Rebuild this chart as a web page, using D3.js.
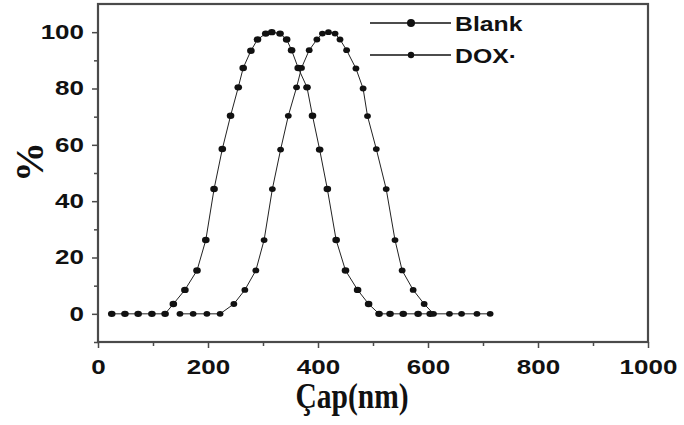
<!DOCTYPE html>
<html lang="en">
<head>
  <meta charset="UTF-8">
  <title>Blank vs DOX size distribution</title>
  <script src="https://d3js.org/d3.v7.min.js"></script>
  <style>
    body { margin: 0; background: #fff; }
    svg { display: block; }
  </style>
</head>
<body>
  <div id="chart"></div>

  <script>
    // Data (size in nm, percent)
    const blankSize = [25, 49, 73, 98, 122, 137, 158, 180, 196, 211, 226, 241, 255, 264, 278, 290, 305, 316, 331, 343, 352, 364, 380, 390, 403, 417, 433, 450, 472, 492, 511, 531, 555, 582, 604];
    const blankPct = [0, 0, 0, 0, 0, 3.5, 8.5, 15.4, 26.2, 44.3, 58.5, 70.3, 80.4, 87.3, 93.4, 97.4, 99.5, 100, 99.5, 97.4, 93.6, 87.3, 80.4, 70.3, 58.3, 44.3, 26.2, 15.4, 8.5, 3.5, 0, 0, 0, 0, 0];

    const doxSize = [149, 173, 198, 222, 247, 267, 287, 302, 317, 332, 346, 361, 370, 384, 398, 408, 419, 431, 440, 452, 469, 482, 490, 506, 524, 540, 553, 573, 593, 610, 639, 661, 689, 713];
    const doxPct = [0, 0, 0, 0, 3.5, 8.5, 15.4, 26.2, 44.3, 58.3, 70.3, 80.4, 87.3, 93.6, 97.4, 99.5, 100, 99.5, 97.4, 93.6, 87.1, 80, 70.2, 58.5, 44.3, 26.2, 15.4, 8.5, 3.5, 0, 0, 0, 0, 0];

    const seriesNames = ["Blank", "DOX·"];
    const xTicks = [0, 200, 400, 600, 800, 1000];
    const xMinor = [100, 300, 500, 700, 900];
    const yTicks = [0, 20, 40, 60, 80, 100];
    const yMinor = [-10, 10, 30, 50, 70, 90];

    // Chart size
    const W = 684, H = 425;
    const margin = { top: 4, right: 36, bottom: 83, left: 98 };
    const width = W - margin.left - margin.right;
    const height = H - margin.top - margin.bottom;

    const svg = d3.select("#chart").append("svg")
      .attr("width", W)
      .attr("height", H);

    const g = svg.append("g")
      .attr("transform", `translate(${margin.left},${margin.top})`);

    // Scales
    const x = d3.scaleLinear().domain([0, 1000]).range([0, width]);
    const y = d3.scaleLinear().domain([-10, 110]).range([height, 0]);

    const ink = "#111";
    const frame = "#4a4a4a";
    const tickFont = "'Liberation Sans', Arial, sans-serif";
    const stretchX = 1.3;

    // Minor ticks first
    g.append("g")
      .attr("transform", `translate(0,${height})`)
      .call(d3.axisBottom(x).tickValues(xMinor).tickSize(4).tickFormat(""))
      .call(a => a.select(".domain").remove())
      .selectAll("line").attr("stroke", frame).attr("stroke-width", 1.5);

    g.append("g")
      .call(d3.axisLeft(y).tickValues(yMinor).tickSize(4).tickFormat(""))
      .call(a => a.select(".domain").remove())
      .selectAll("line").attr("stroke", frame).attr("stroke-width", 1.5);

    // Major x axis
    const xAxis = g.append("g")
      .attr("transform", `translate(0,${height})`)
      .call(d3.axisBottom(x).tickValues(xTicks).tickFormat(d3.format("d")).tickSize(6).tickPadding(12));
    xAxis.select(".domain").remove();
    xAxis.selectAll("line").attr("stroke", frame).attr("stroke-width", 1.5);
    xAxis.selectAll("text")
      .attr("fill", ink)
      .style("font-family", tickFont)
      .style("font-weight", "bold")
      .style("font-size", "20px")
      .attr("transform", `scale(${stretchX},1)`);

    // Major y axis
    const yAxis = g.append("g")
      .call(d3.axisLeft(y).tickValues(yTicks).tickFormat(d3.format("d")).tickSize(6).tickPadding(8));
    yAxis.select(".domain").remove();
    yAxis.selectAll("line").attr("stroke", frame).attr("stroke-width", 1.5);
    yAxis.selectAll("text")
      .attr("fill", ink)
      .attr("x", -14 / stretchX)
      .style("font-family", tickFont)
      .style("font-weight", "bold")
      .style("font-size", "20px")
      .attr("transform", `scale(${stretchX},1)`);

    // Frame box
    g.append("rect")
      .attr("x", 0).attr("y", 0)
      .attr("width", width).attr("height", height)
      .attr("fill", "none")
      .attr("stroke", frame)
      .attr("stroke-width", 2.2);

    // Lines and markers
    const line = d3.line()
      .x(d => x(d[0]))
      .y(d => y(d[1]));

    const series = [
      { name: seriesNames[0], pts: d3.zip(blankSize, blankPct), rx: 3.8, ry: 3.2 },
      { name: seriesNames[1], pts: d3.zip(doxSize, doxPct), rx: 3.4, ry: 2.9 }
    ];

    series.forEach(s => {
      g.append("path")
        .datum(s.pts)
        .attr("fill", "none")
        .attr("stroke", "#222")
        .attr("stroke-width", 1)
        .attr("d", line);

      g.selectAll(null)
        .data(s.pts)
        .enter().append("ellipse")
          .attr("cx", d => x(d[0]))
          .attr("cy", d => y(d[1]))
          .attr("rx", s.rx)
          .attr("ry", s.ry)
          .attr("fill", ink);
    });

    // Legend
    const legendRows = [
      { name: seriesNames[0], y: 23, r: 4 },
      { name: seriesNames[1], y: 55, r: 3.2 }
    ];
    const lg = svg.append("g");
    legendRows.forEach(row => {
      lg.append("line")
        .attr("x1", 370).attr("x2", 451)
        .attr("y1", row.y).attr("y2", row.y)
        .attr("stroke", ink).attr("stroke-width", 1.3);
      lg.append("circle")
        .attr("cx", 411).attr("cy", row.y).attr("r", row.r)
        .attr("fill", ink);
      lg.append("text")
        .attr("transform", `translate(455,${row.y + 8}) scale(1.18,1)`)
        .attr("fill", ink)
        .style("font-family", tickFont)
        .style("font-weight", "bold")
        .style("font-size", "21px")
        .text(row.name);
    });

    // Axis titles
    svg.append("text")
      .attr("transform", "translate(352,408) scale(0.82,1)")
      .attr("text-anchor", "middle")
      .attr("fill", ink)
      .style("font-family", "'Liberation Serif', 'Times New Roman', serif")
      .style("font-weight", "bold")
      .style("font-size", "36px")
      .text("Çap(nm)");

    svg.append("text")
      .attr("transform", "translate(43,162) rotate(-90)")
      .attr("text-anchor", "middle")
      .attr("fill", ink)
      .style("font-family", "'Liberation Serif', 'Times New Roman', serif")
      .style("font-weight", "bold")
      .style("font-size", "40px")
      .text("%");
  </script>
</body>
</html>
